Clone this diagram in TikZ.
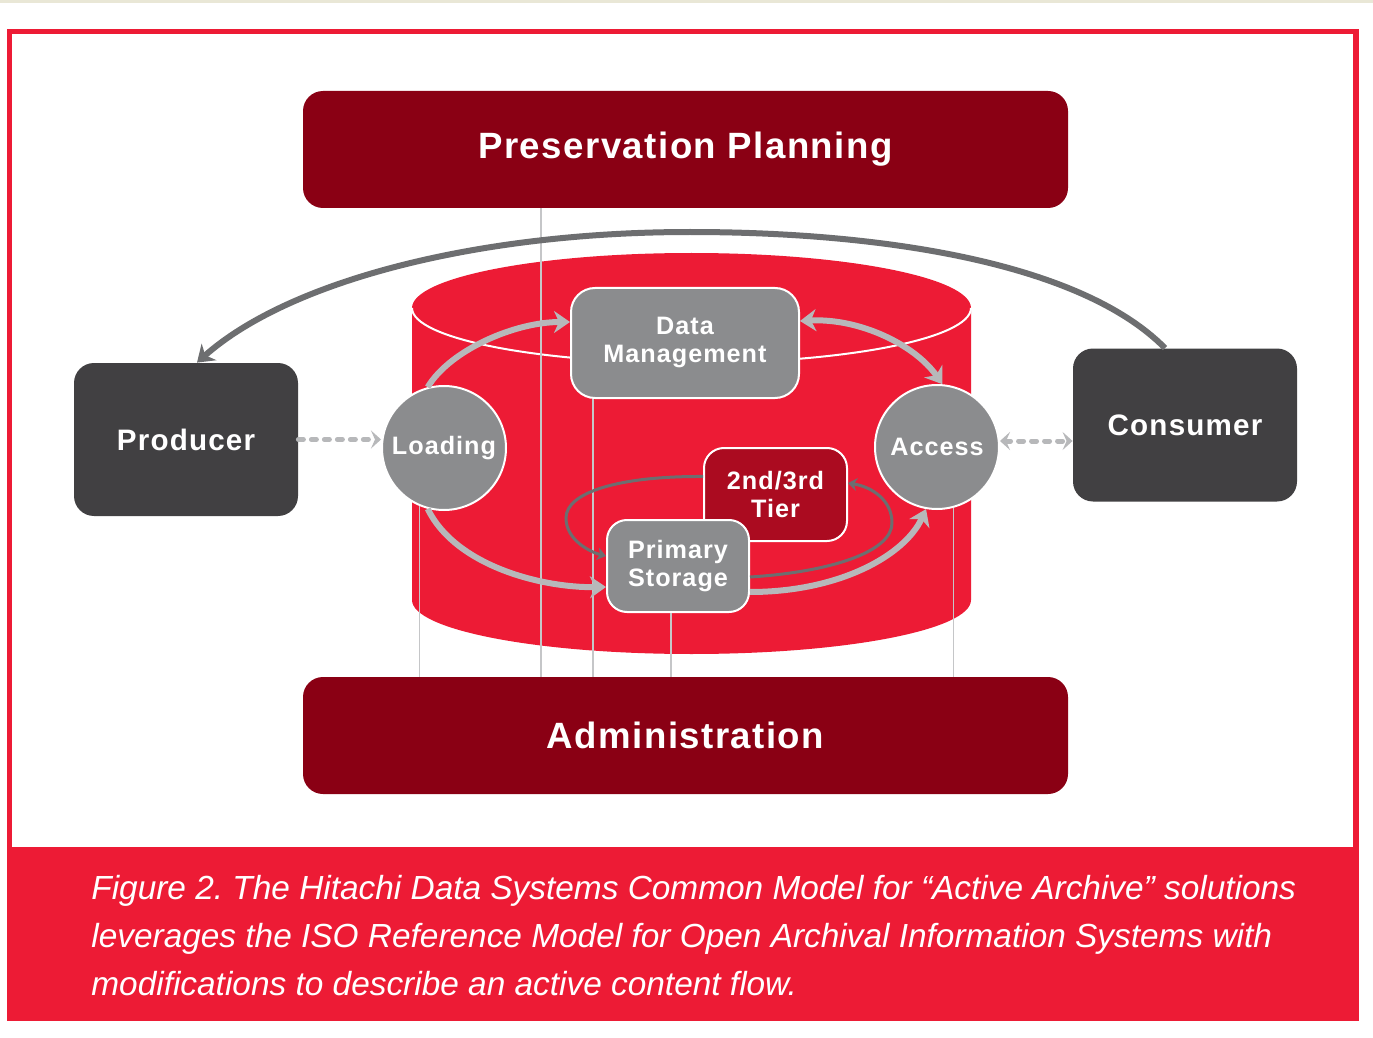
\documentclass[tikz,border=0pt]{standalone}
\usepackage{fontspec}
\setmainfont{Liberation Sans}
\usetikzlibrary{arrows.meta}
\definecolor{hdsred}{HTML}{ED1B35}
\definecolor{barred}{HTML}{8A0014}
\definecolor{tierred}{HTML}{AB0B20}
\definecolor{actorgray}{HTML}{414042}
\definecolor{stagegray}{HTML}{8B8C8E}
\definecolor{flowgray}{HTML}{B7B8BA}
\definecolor{loopgray}{HTML}{6D6E70}
\definecolor{strip}{HTML}{E9E7D6}

\begin{document}
\begin{tikzpicture}[x=0.5pt,y=-0.5pt,
  bar/.style={rectangle,rounded corners=10pt,fill=barred,text=white,minimum width=382.5pt,minimum height=58.5pt,
    font=\fontsize{18.3}{22}\selectfont\bfseries\addfontfeatures{LetterSpace=4}},
  actor/.style={rectangle,rounded corners=10pt,fill=actorgray,text=white,minimum width=112pt,minimum height=76.5pt,
    font=\fontsize{14.8}{18}\selectfont\bfseries\addfontfeatures{LetterSpace=4}},
  stage/.style={circle,fill=stagegray,draw=white,line width=1pt,text=white,minimum size=62pt,inner sep=0pt,
    font=\fontsize{12.6}{14}\selectfont\bfseries\addfontfeatures{LetterSpace=4}},
  store/.style={rectangle,rounded corners=10pt,fill=stagegray,draw=white,line width=1pt,text=white,align=center,
    minimum width=71pt,minimum height=46pt,inner sep=0pt,
    font=\fontsize{12.6}{14}\selectfont\bfseries\addfontfeatures{LetterSpace=4}},
  vline/.style={draw=flowgray!80!white,line width=0.6pt},
  flow/.style={draw=flowgray,line width=3pt,-{Stealth[length=8pt,width=11pt,inset=2.5pt]}},
  cycleline/.style={draw=loopgray,line width=1.5pt,-{Stealth[length=4.5pt,width=6.5pt,inset=1.5pt]}},
  feedback/.style={draw=loopgray,line width=3pt,-{Stealth[length=8pt,width=11pt,inset=2.5pt]}},
  handoff/.style={draw=flowgray,line width=2.5pt,line cap=round,dash pattern=on 2.5pt off 4pt,
    -{Stealth[length=5pt,width=9pt,inset=2pt]}},
  caption/.style={anchor=base west,align=left,text=white,inner sep=0pt,
    font=\fontsize{16.7}{24}\selectfont\itshape\frenchspacing}]

  \useasboundingbox (0,0) rectangle (1373,1038);
  \fill[strip] (0,0) rectangle (1373,3);
  \fill[hdsred] (7,29) rectangle (1359,1021);
  \fill[white] (12,34) rectangle (1353,847);

  % archive cylinder
  \fill[hdsred] (412,308) -- (412,600) arc[start angle=180,end angle=360,x radius=139.75pt,y radius=27pt]
    -- (971,308) arc[start angle=0,end angle=180,x radius=139.75pt,y radius=27.5pt] -- cycle;
  \draw[white,line width=1pt] (412,308) arc[start angle=180,end angle=360,x radius=139.75pt,y radius=27.5pt];

  \node[bar] (plan) at (685.5,149.5) {Preservation Planning};
  \node[bar] (admin) at (685.5,735.5) {Administration};
  \node[actor] (producer) at (186,439.5) {Producer};
  \node[actor] (consumer) at (1185,425) {Consumer};
  \node[stage] (loading) at (444,448) {Loading};
  \node[stage] (access) at (937,447) {Access};
  \node[store,rounded corners=12pt,minimum width=114pt,minimum height=55pt] (dm) at (685,343) {Data\\Management};
  \node[store,fill=tierred,minimum width=71.5pt,minimum height=46.5pt] (tier) at (775.5,494.5) {2nd/3rd\\Tier};
  \node[store] (ps) at (678,566) {Primary\\Storage};

  \draw[vline] ([xshift=-72.25pt]plan.south) -- ([xshift=-72.25pt]admin.north);
  \draw[vline] (loading.-113) -- (loading.-113 |- admin.north);
  \draw[vline] ([xshift=11.5pt]dm.south west) -- ([xshift=11.5pt]dm.south west |- admin.north);
  \draw[vline] ([xshift=-3.5pt]ps.south) -- ([xshift=-3.5pt]ps.south |- admin.north);
  \draw[vline] (access.-75) -- (access.-75 |- admin.north);

  \draw[flow] (loading.105) .. controls (450,350) and (515,322) .. ([yshift=10.5pt]dm.west);
  \draw[flow,{Stealth[length=8pt,width=11pt,inset=2.5pt]}-{Stealth[length=8pt,width=11pt,inset=2.5pt]}]
    ([yshift=11pt]dm.east) .. controls (860,318) and (915,345) .. (access.85);
  \draw[flow] (loading.-105) .. controls (455,565) and (540,588) .. ([yshift=-10.5pt]ps.west);
  \draw[flow] ([yshift=-13pt]ps.east) .. controls (840,592) and (905,555) .. (access.-100);

  \draw[cycleline] ([yshift=9pt]tier.west) .. controls (620,476) and (566,492) .. (566,518)
    .. controls (566,540) and (590,552) .. ([yshift=5pt]ps.west);
  \draw[cycleline] ([yshift=-5.5pt]ps.east) .. controls (830,572) and (892,552) .. (892,523)
    .. controls (892,500) and (872,487) .. ([yshift=5.75pt]tier.east);

  \draw[feedback] ([xshift=-10pt]consumer.north) .. controls (1080,262) and (880,232) .. (690,232)
    .. controls (480,232) and (290,280) .. ([xshift=5.5pt]producer.north);

  \draw[handoff] (producer.east) -- (loading.west |- producer.east);
  \draw[handoff,{Stealth[length=5pt,width=9pt,inset=2pt]}-{Stealth[length=5pt,width=9pt,inset=2pt]}]
    ([yshift=3pt]access.east) -- ([yshift=3pt]access.east -| consumer.west);

  \node[caption] (note) at (91,995) {Figure 2. The Hitachi Data Systems Common Model for “Active Archive” solutions\\
    leverages the ISO Reference Model for Open Archival Information Systems with\\
    modifications to describe an active content flow.};
\end{tikzpicture}
\end{document}
